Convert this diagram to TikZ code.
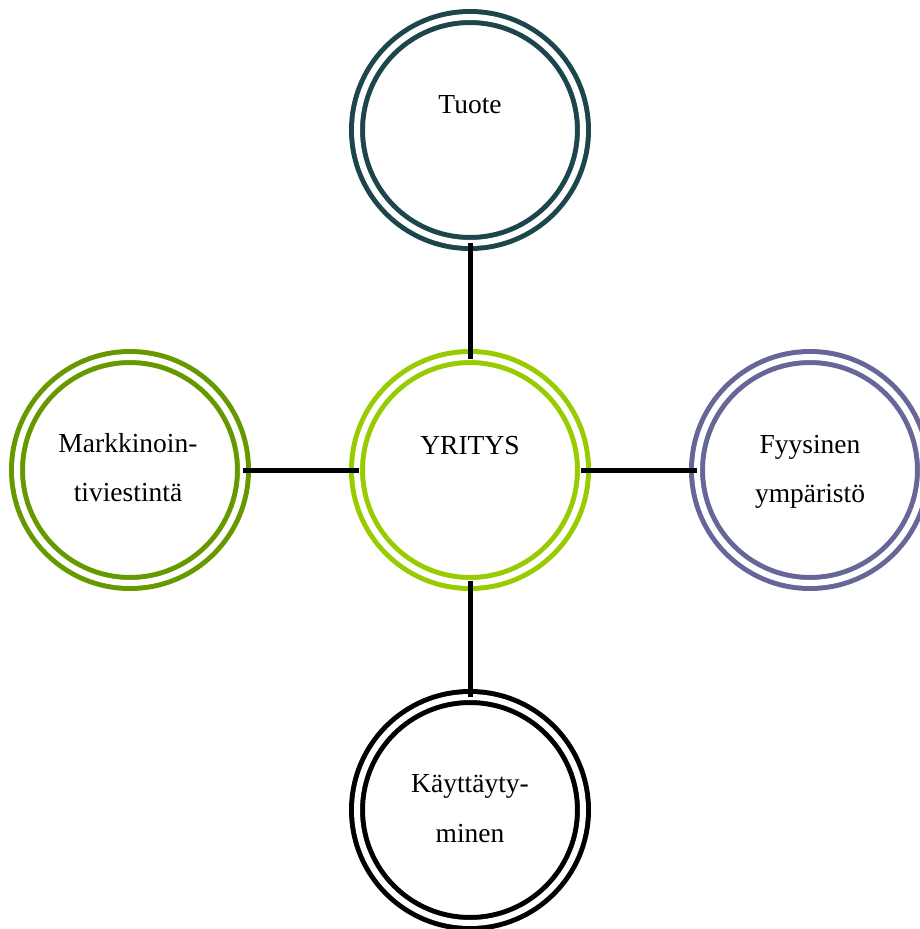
\documentclass[tikz,border=0pt]{standalone}
\usepackage{fontspec}
\setmainfont{Liberation Serif}
\definecolor{cteal}{RGB}{28,70,76}
\definecolor{cyg}{RGB}{153,204,0}
\definecolor{cpurple}{RGB}{102,102,153}
\definecolor{cgreen}{RGB}{102,153,0}
\begin{document}
\begin{tikzpicture}[x=1pt,y=-1pt,
  ring/.style={circle, minimum size=226pt, inner sep=0pt, outer sep=0pt,
    line width=5pt, double=white, double distance=6pt, draw=#1},
  link/.style={line width=5pt, draw=black},
  lbl/.style={font=\fontsize{27.5}{50}\selectfont, anchor=base, inner sep=0pt}]
\useasboundingbox (0,0) rectangle (920,929);
\clip (0,0) rectangle (920,929);
\node[ring=cteal] (tuote) at (470,130) {};
\node[ring=cyg] (yritys) at (470,470) {};
\node[ring=cpurple] (fyys) at (810,470) {};
\node[ring=cgreen] (mark) at (130,470) {};
\node[ring=black] (kayt) at (470,810) {};
\draw[link, shorten >=-2pt] (tuote.south) -- (yritys.north);
\draw[link, shorten <=-2pt] (yritys.south) -- (kayt.north);
\draw[link, shorten >=-2pt] (mark.east) -- (yritys.west);
\draw[link, shorten <=-2pt] (yritys.east) -- (fyys.west);
\node[lbl] (t1) at (470,113) {Tuote};
\node[lbl] (t2) at (470,454) {YRITYS};
\node[lbl] (t3a) at (810,453) {Fyysinen};
\node[lbl] (t3b) at (810,502) {ympäristö};
\node[lbl] (t4a) at (128,452) {Markkinoin-};
\node[lbl] (t4b) at (128,501) {tiviestintä};
\node[lbl] (t5a) at (470,792) {Käyttäyty-};
\node[lbl] (t5b) at (470,842) {minen};
\end{tikzpicture}
\end{document}
